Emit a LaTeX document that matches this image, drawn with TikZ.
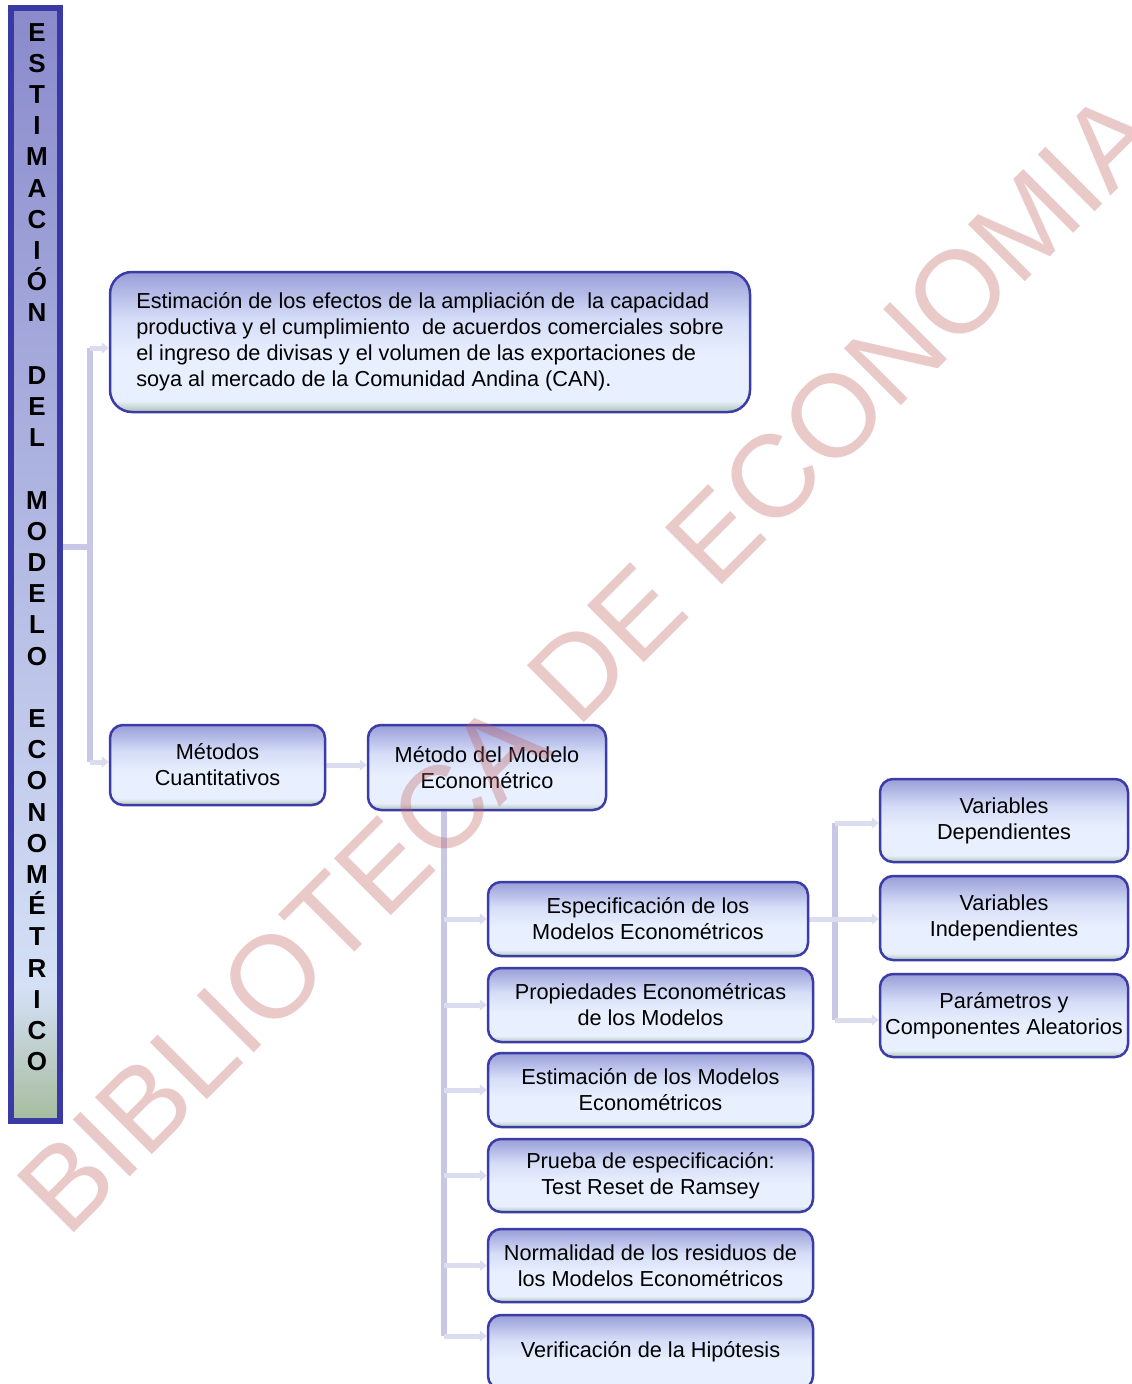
\documentclass[tikz,border=0pt]{standalone}
\usepackage{fontspec}
\setmainfont{Liberation Sans}
\usetikzlibrary{arrows.meta}

\definecolor{boxline}{HTML}{3C3CA8}
\definecolor{bxT}{HTML}{9A9ED8}
\definecolor{bxM}{HTML}{D6DEF8}
\definecolor{bxL}{HTML}{E8EFFE}
\definecolor{bxG}{HTML}{AFC4B0}
\definecolor{barline}{HTML}{3A3AA6}
\definecolor{brT}{HTML}{8A8ACC}
\definecolor{brL}{HTML}{D4E0F6}
\definecolor{brG}{HTML}{A6BC9E}
\definecolor{link}{HTML}{C8C8E6}
\definecolor{linkfaint}{HTML}{DCDCF0}
\definecolor{wmark}{RGB}{190,90,90}

% lavender-to-pale fill with a grey-green foot
\pgfdeclareverticalshading{boxfill}{100bp}{color(0bp)=(bxG); color(25bp)=(bxG); color(29bp)=(bxL); color(45bp)=(bxL); color(58bp)=(bxM); color(75bp)=(bxT); color(100bp)=(bxT)}
\pgfdeclareverticalshading{barfill}{100bp}{color(0bp)=(brG); color(25bp)=(brG); color(31bp)=(brL); color(75bp)=(brT); color(100bp)=(brT)}

\pgfdeclarelayer{links}
\pgfsetlayers{links,main}

\tikzset{
  box/.style={draw=boxline, line width=2.5pt, rounded corners=13pt, shading=boxfill,
    align=center, inner sep=0pt, font=\fontsize{21.7}{26}\selectfont},
  trunk/.style={draw=link, line width=6pt},
  branch/.style={draw=linkfaint, line width=5pt, -{Triangle[length=7pt,width=11pt]}},
}

\begin{document}
\begin{tikzpicture}[x=1pt, y=-1pt]
\useasboundingbox (0,0) rectangle (1132,1384);
\begin{pgfonlayer}{links}
\fill[white] (0,0) rectangle (1132,1384);
\end{pgfonlayer}
\clip (0,0) rectangle (1132,1384);

% vertical title bar
\node[draw=barline, line width=6pt, shading=barfill, minimum width=49pt,
      minimum height=1113pt, inner sep=0pt] (bar) at (35.5,564.5) {};
\node[font=\fontsize{26}{31.2}\selectfont\bfseries, align=center, inner sep=0pt] (title) at (37,547)
  {E\\S\\T\\I\\M\\A\\C\\I\\Ó\\N\\\mbox{}\\D\\E\\L\\\mbox{}\\M\\O\\D\\E\\L\\O\\\mbox{}\\E\\C\\O\\N\\O\\M\\É\\T\\R\\I\\C\\O};

% boxes
\node[box, rounded corners=22pt, minimum width=640pt, minimum height=140pt, align=left] (box1) at (430,342)
  {Estimación de los efectos de la ampliación de~ la capacidad\\
   productiva y el cumplimiento~ de acuerdos comerciales sobre\\
   el ingreso de divisas y el volumen de las exportaciones de\\
   soya al mercado de la Comunidad Andina (CAN).};
\node[box, minimum width=215pt, minimum height=80pt] (metodos) at (217.5,765) {Métodos\\Cuantitativos};
\node[box, minimum width=238pt, minimum height=85pt] (metodo) at (487,767.5) {Método del Modelo\\Econométrico};

\node[box, minimum width=320pt, minimum height=74pt] (esp) at (648,919) {Especificación de los\\Modelos Econométricos};
\node[box, minimum width=325pt, minimum height=74pt] (prop) at (650.5,1005) {Propiedades Econométricas\\de los Modelos};
\node[box, minimum width=325pt, minimum height=74pt] (estim) at (650.5,1090) {Estimación de los Modelos\\Econométricos};
\node[box, minimum width=325pt, minimum height=73pt] (prueba) at (650.5,1175.5) {Prueba de especificación:\\Test Reset de Ramsey};
\node[box, minimum width=325pt, minimum height=73pt] (normal) at (650.5,1265.5) {Normalidad de los residuos de\\los Modelos Econométricos};
\node[box, minimum width=325pt, minimum height=74pt] (verif) at (650.5,1352) {Verificación de la Hipótesis};

\node[box, minimum width=248pt, minimum height=83pt] (vdep) at (1004,820.5) {Variables\\Dependientes};
\node[box, minimum width=248pt, minimum height=84pt] (vind) at (1004,918) {Variables\\Independientes};
\node[box, minimum width=248pt, minimum height=83pt] (param) at (1004,1015.5) {Parámetros y\\Componentes Aleatorios};

% connectors, kept underneath the boxes
\coordinate (j1) at (90,547);
\coordinate (t1) at (90,348);
\coordinate (t2) at (90,762);
\coordinate (t3) at (444,811);
\coordinate (t4) at (444,1336);
\coordinate (t5) at (835,823);
\coordinate (t6) at (835,1020);

\begin{pgfonlayer}{links}
\draw[trunk] (bar.east |- j1) -- (j1);
\draw[trunk] (t1) -- (t2);
\draw[branch] (t1) -- (t1 -| box1.west);
\draw[branch] (t2) -- (t2 -| metodos.west);
\draw[branch] (metodos.east) -- (metodos.east -| metodo.west);

\draw[trunk] (t3) -- (t4);
\foreach \n in {esp,prop,estim,prueba,normal}
  \draw[branch] (t3 |- \n.west) -- (\n.west);
\draw[branch] (t4) -- (t4 -| verif.west);

\draw[trunk] (t5) -- (t6);
\draw[branch] (t5) -- (t5 -| vdep.west);
\draw[branch] (esp.east) -- (esp.east -| vind.west);
\draw[branch] (t6) -- (t6 -| param.west);
\end{pgfonlayer}

% watermark
\node[text=wmark, text opacity=0.32, font=\fontsize{117}{117}\selectfont, rotate=45, inner sep=0pt]
  (wm) at (588,662) {BIBLIOTECA DE ECONOMIA};
\end{tikzpicture}
\end{document}
